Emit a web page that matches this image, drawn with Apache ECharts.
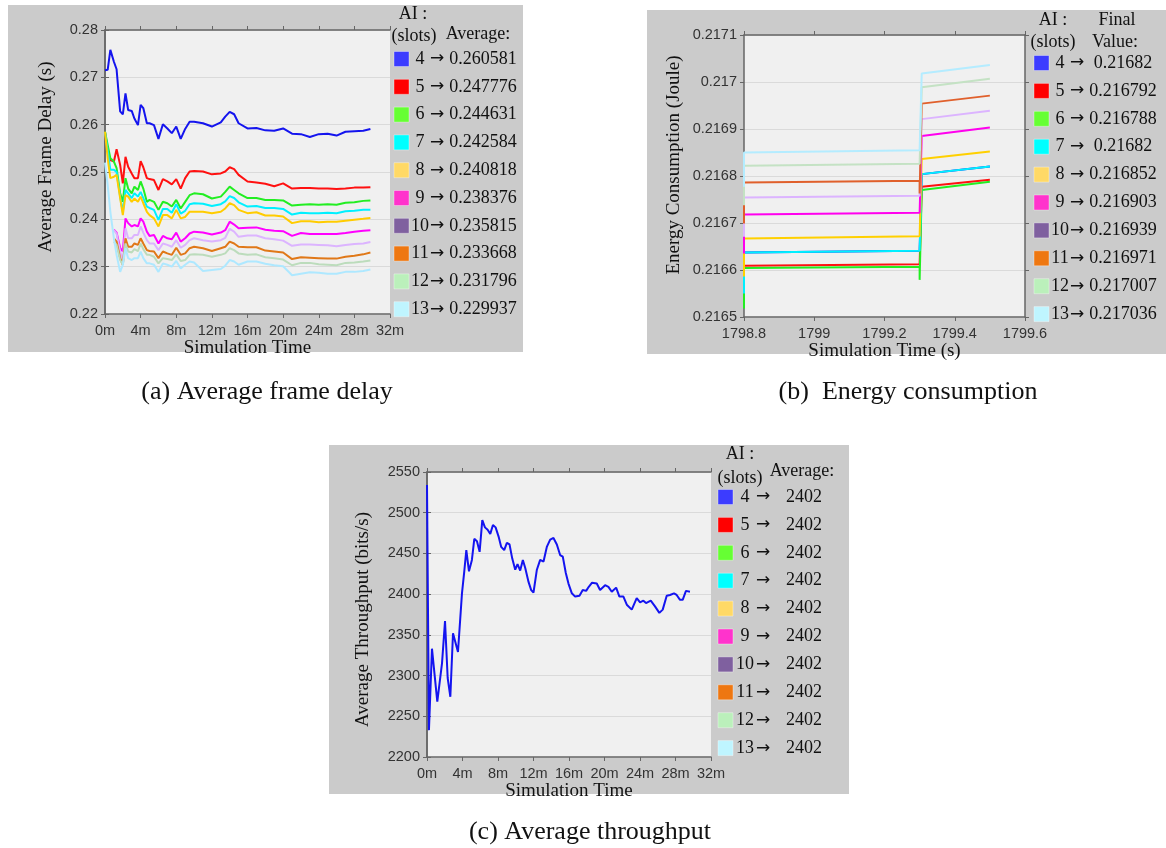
<!DOCTYPE html>
<html><head><meta charset="utf-8">
<script src="https://cdn.jsdelivr.net/npm/echarts@6/dist/echarts.min.js"></script>
<style>html,body{margin:0;padding:0;background:#fff}#c{width:1166px;height:848px}</style>
</head><body><div id="c"></div>
<script>
// ---------- data ----------
const slots = [4, 5, 6, 7, 8, 9, 10, 11, 12, 13];
const legendColors = ['#3c3cff', '#ff0000', '#66ff33', '#00ffff', '#ffd966', '#ff33cc', '#7f609f', '#ee7711', '#bbf0bb', '#bff5ff'];
const delayLineColors = ['#1414ee', '#ff1010', '#22ee22', '#00f0ff', '#ffcc00', '#ff00ff', '#dcb4ff', '#e07818', '#bcdcbc', '#aee8ff'];
const energyLineColors = ['#1414ee', '#ff1010', '#22ee22', '#00f0ff', '#ffd000', '#ff00ee', '#dcb4ff', '#e0602c', '#c4e2c4', '#b4ecff'];

// (a) Average frame delay (s) vs simulation time (minutes)
const delayTime = [0, 0.3, 0.6, 1.0, 1.3, 1.7, 2.0, 2.3, 2.6, 3.0, 3.3, 3.7, 4.0, 4.3, 4.7, 5.0, 5.5, 6.0, 6.5, 7.0, 7.5, 8.0, 8.5, 9.0, 9.5, 10, 11, 12, 13, 13.5, 14, 14.5, 15, 16, 17, 18, 19, 20, 21, 22, 23, 24, 25, 26, 27, 28, 29, 29.8];
const delay4 = [0.2715, 0.2716, 0.2758, 0.2733, 0.2717, 0.2628, 0.2622, 0.2666, 0.2631, 0.2629, 0.2613, 0.2599, 0.2642, 0.2635, 0.2603, 0.2603, 0.2599, 0.2570, 0.2601, 0.2592, 0.2582, 0.2596, 0.2570, 0.2591, 0.2606, 0.2606, 0.2603, 0.2596, 0.2605, 0.2617, 0.2627, 0.2622, 0.2603, 0.2592, 0.2593, 0.2588, 0.2587, 0.2592, 0.2581, 0.2580, 0.2574, 0.2580, 0.2581, 0.2577, 0.2585, 0.2586, 0.2587, 0.2591];
const delay5 = [0.2585, 0.2545, 0.2525, 0.2522, 0.2548, 0.2515, 0.2476, 0.2532, 0.2511, 0.2497, 0.2487, 0.2487, 0.2523, 0.2510, 0.2487, 0.2485, 0.2483, 0.2462, 0.2485, 0.2480, 0.2474, 0.2485, 0.2465, 0.2487, 0.2501, 0.2502, 0.2501, 0.2495, 0.2497, 0.2501, 0.2510, 0.2506, 0.2494, 0.2480, 0.2478, 0.2475, 0.2470, 0.2476, 0.2465, 0.2466, 0.2466, 0.2465, 0.2465, 0.2464, 0.2465, 0.2467, 0.2467, 0.2468];
const delay6 = [0.2585, 0.2557, 0.2529, 0.2522, 0.2508, 0.2455, 0.2437, 0.2487, 0.2465, 0.2455, 0.2469, 0.2462, 0.2480, 0.2465, 0.2437, 0.2441, 0.2437, 0.2420, 0.2437, 0.2434, 0.2427, 0.2441, 0.2423, 0.2437, 0.2451, 0.2455, 0.2453, 0.2444, 0.2448, 0.2458, 0.2469, 0.2462, 0.2455, 0.2445, 0.2445, 0.2441, 0.2441, 0.2440, 0.2429, 0.2431, 0.2432, 0.2431, 0.2432, 0.2431, 0.2435, 0.2436, 0.2439, 0.2440];
const delay7 = [0.2585, 0.2545, 0.2505, 0.2505, 0.2500, 0.2448, 0.2415, 0.2462, 0.2455, 0.2445, 0.2455, 0.2448, 0.2458, 0.2445, 0.2427, 0.2424, 0.2420, 0.2399, 0.2422, 0.2422, 0.2414, 0.2432, 0.2412, 0.2418, 0.2432, 0.2434, 0.2433, 0.2428, 0.2432, 0.2438, 0.2449, 0.2445, 0.2436, 0.2427, 0.2428, 0.2424, 0.2424, 0.2422, 0.2410, 0.2414, 0.2413, 0.2413, 0.2414, 0.2413, 0.2417, 0.2418, 0.2420, 0.2420];
const delay8 = [0.2585, 0.2529, 0.2487, 0.2490, 0.2494, 0.2445, 0.2409, 0.2451, 0.2448, 0.2437, 0.2444, 0.2437, 0.2448, 0.2434, 0.2416, 0.2409, 0.2402, 0.2385, 0.2409, 0.2409, 0.2402, 0.2420, 0.2402, 0.2405, 0.2416, 0.2416, 0.2416, 0.2413, 0.2416, 0.2423, 0.2434, 0.2430, 0.2420, 0.2413, 0.2415, 0.2408, 0.2408, 0.2406, 0.2392, 0.2396, 0.2396, 0.2394, 0.2395, 0.2395, 0.2397, 0.2399, 0.2401, 0.2403];
const delay9 = [null, null, null, 0.2378, 0.2372, 0.2340, 0.2332, 0.2402, 0.2392, 0.2385, 0.2388, 0.2385, 0.2402, 0.2395, 0.2374, 0.2365, 0.2367, 0.2349, 0.2365, 0.2360, 0.2358, 0.2372, 0.2353, 0.2360, 0.2370, 0.2374, 0.2372, 0.2368, 0.2372, 0.2377, 0.2395, 0.2389, 0.2381, 0.2382, 0.2383, 0.2378, 0.2376, 0.2375, 0.2365, 0.2371, 0.2369, 0.2369, 0.2369, 0.2369, 0.2371, 0.2374, 0.2376, 0.2377];
const delay10 = [null, null, null, 0.2377, 0.2370, 0.2332, 0.2314, 0.2381, 0.2360, 0.2360, 0.2367, 0.2367, 0.2385, 0.2372, 0.2356, 0.2349, 0.2349, 0.2335, 0.2349, 0.2346, 0.2342, 0.2356, 0.2340, 0.2346, 0.2356, 0.2360, 0.2356, 0.2353, 0.2356, 0.2361, 0.2380, 0.2374, 0.2363, 0.2366, 0.2366, 0.2360, 0.2358, 0.2355, 0.2344, 0.2347, 0.2347, 0.2346, 0.2345, 0.2343, 0.2346, 0.2348, 0.2349, 0.2352];
const delay11 = [null, null, null, 0.2360, 0.2353, 0.2318, 0.2304, 0.2360, 0.2342, 0.2342, 0.2349, 0.2346, 0.2360, 0.2349, 0.2335, 0.2333, 0.2332, 0.2318, 0.2332, 0.2328, 0.2325, 0.2340, 0.2325, 0.2328, 0.2339, 0.2342, 0.2339, 0.2333, 0.2339, 0.2342, 0.2353, 0.2349, 0.2342, 0.2341, 0.2341, 0.2334, 0.2332, 0.2330, 0.2316, 0.2320, 0.2319, 0.2318, 0.2317, 0.2317, 0.2321, 0.2323, 0.2326, 0.2330];
const delay12 = [null, null, null, 0.2353, 0.2346, 0.2314, 0.2304, 0.2349, 0.2332, 0.2330, 0.2337, 0.2333, 0.2349, 0.2337, 0.2325, 0.2325, 0.2321, 0.2307, 0.2318, 0.2316, 0.2314, 0.2326, 0.2312, 0.2314, 0.2325, 0.2326, 0.2325, 0.2321, 0.2325, 0.2328, 0.2339, 0.2335, 0.2328, 0.2325, 0.2326, 0.2320, 0.2318, 0.2315, 0.2303, 0.2308, 0.2308, 0.2305, 0.2304, 0.2303, 0.2308, 0.2309, 0.2311, 0.2313];
const delay13 = [0.2520, 0.2473, 0.2416, 0.2360, 0.2325, 0.2289, 0.2304, 0.2339, 0.2318, 0.2314, 0.2318, 0.2318, 0.2332, 0.2318, 0.2307, 0.2307, 0.2304, 0.2289, 0.2307, 0.2304, 0.2300, 0.2312, 0.2296, 0.2304, 0.2311, 0.2309, 0.2291, 0.2293, 0.2295, 0.2302, 0.2314, 0.2311, 0.2304, 0.2311, 0.2311, 0.2306, 0.2303, 0.2301, 0.2282, 0.2285, 0.2288, 0.2287, 0.2285, 0.2285, 0.2289, 0.2289, 0.2291, 0.2294];
const delayAverage = ['0.260581', '0.247776', '0.244631', '0.242584', '0.240818', '0.238376', '0.235815', '0.233668', '0.231796', '0.229937'];

// (b) Energy consumption (Joule) vs simulation time (s)
const energyTime = [1798.8, 1798.8, 1799.3, 1799.3, 1799.306, 1799.5];
const energyEntry = [0.216565, 0.216572, 0.216518, 0.216550, 0.216586, 0.216635, 0.216671, 0.216699, 0.216738, 0.216777];
const energyStartLevel = [0.216637, 0.216609, 0.216604, 0.216637, 0.216667, 0.216718, 0.216754, 0.216786, 0.216822, 0.216850];
const energyEndLevel = [0.216641, 0.216612, 0.216607, 0.216641, 0.216672, 0.216722, 0.216758, 0.216790, 0.216826, 0.216855];
const energyDip = [0.216641, 0.216612, 0.216579, 0.216641, 0.216672, 0.216722, 0.216758, 0.216763, 0.216826, 0.216855];
const energyJump = [0.216804, 0.216777, 0.216770, 0.216804, 0.216836, 0.216885, 0.216921, 0.216954, 0.216989, 0.217018];
const energyFinal = [0.21682, 0.216792, 0.216788, 0.21682, 0.216852, 0.216903, 0.216939, 0.216971, 0.217007, 0.217036];

// (c) Average throughput (bits/s) vs simulation time (minutes)
const throughputTime = [0, 0.22, 0.56, 1.16, 1.69, 2.03, 2.33, 2.63, 2.93, 3.49, 3.94, 4.2, 4.43, 4.73, 5.06, 5.33, 5.63, 5.93, 6.23, 6.53, 6.83, 7.13, 7.43, 7.73, 8.06, 8.36, 8.7, 9.0, 9.3, 9.6, 9.94, 10.2, 10.5, 10.8, 11.07, 11.44, 11.74, 12.0, 12.38, 12.75, 13.13, 13.5, 13.88, 14.25, 14.63, 15.0, 15.3, 15.64, 15.94, 16.32, 16.69, 17.18, 17.55, 17.93, 18.23, 18.6, 19.13, 19.5, 20.07, 20.44, 20.82, 21.31, 21.68, 22.13, 22.51, 23.07, 23.63, 24.01, 24.38, 24.68, 25.21, 25.69, 26.18, 26.56, 27.01, 27.38, 27.83, 28.13, 28.51, 28.81, 29.18, 29.63];
const throughput = [2534, 2233, 2333, 2268, 2315, 2367, 2297, 2274, 2352, 2329, 2401, 2428, 2454, 2428, 2442, 2468, 2465, 2452, 2491, 2482, 2479, 2474, 2485, 2482, 2471, 2458, 2454, 2463, 2461, 2444, 2430, 2437, 2429, 2442, 2432, 2415, 2405, 2402, 2430, 2442, 2440, 2458, 2467, 2469, 2461, 2448, 2446, 2426, 2413, 2401, 2397, 2398, 2405, 2404, 2409, 2414, 2413, 2405, 2411, 2409, 2403, 2408, 2397, 2397, 2387, 2381, 2395, 2390, 2392, 2389, 2392, 2385, 2377, 2381, 2398, 2399, 2401, 2399, 2393, 2393, 2404, 2403];
const throughputAverage = ['2402', '2402', '2402', '2402', '2402', '2402', '2402', '2402', '2402', '2402'];

// ---------- chart ----------
const SANS = '"Liberation Sans", Arial, sans-serif';
const SERIF = '"Liberation Serif", "Times New Roman", serif';
const delaySeriesValues = [delay4, delay5, delay6, delay7, delay8, delay9, delay10, delay11, delay12, delay13];

const chart = echarts.init(document.getElementById('c'), null, {renderer: 'canvas', width: 1166, height: 848});

const axisLineStyle = {lineStyle: {color: '#666', width: 1.5}};
const tickStyle = {show: true, length: 4, lineStyle: {color: '#666', width: 1}};
const labelStyle = {fontSize: 14.5, color: '#333', fontFamily: SANS};
const nameStyle = {fontSize: 19, color: '#111', fontFamily: SERIF};

function xBottom(gi, min, max, interval, fmt, name, gap) {
  return {type: 'value', gridIndex: gi, position: 'bottom', min, max, interval,
    axisLine: axisLineStyle, axisTick: tickStyle, splitLine: {show: false},
    axisLabel: Object.assign({margin: 9, formatter: fmt}, labelStyle),
    name, nameLocation: 'middle', nameGap: gap, nameTextStyle: nameStyle};
}
function xTop(gi, min, max, interval) {
  return {type: 'value', gridIndex: gi, position: 'top', min, max, interval,
    axisLine: axisLineStyle, axisTick: tickStyle, splitLine: {show: false}, axisLabel: {show: false}};
}
function yLeft(gi, min, max, interval, fmt, name, gap, shift) {
  // shift > 0 moves the rotated title upwards, < 0 downwards
  const pad = shift >= 0 ? [0, 0, 0, 2 * shift] : [0, -2 * shift, 0, 0];
  return {type: 'value', gridIndex: gi, position: 'left', min, max, interval,
    axisLine: Object.assign({show: true}, axisLineStyle), axisTick: tickStyle,
    splitLine: {show: true, lineStyle: {color: '#dadada', width: 1}},
    axisLabel: Object.assign({margin: 7, formatter: fmt}, labelStyle),
    name, nameLocation: 'middle', nameGap: gap, nameRotate: 90,
    nameTextStyle: Object.assign({padding: pad}, nameStyle)};
}
function yRight(gi, min, max, interval) {
  return {type: 'value', gridIndex: gi, position: 'right', min, max, interval,
    axisLine: Object.assign({show: true}, axisLineStyle), axisTick: tickStyle,
    splitLine: {show: false}, axisLabel: {show: false}};
}

const minuteFmt = v => v + 'm';
const series = [];
delaySeriesValues.forEach((vals, i) => {
  series.push({type: 'line', name: 'a' + slots[i], xAxisIndex: 0, yAxisIndex: 0,
    data: delayTime.map((t, k) => [t, vals[k]]), showSymbol: false, silent: true,
    lineStyle: {width: 2, color: delayLineColors[i]}, itemStyle: {color: delayLineColors[i]}});
});
slots.forEach((s, i) => {
  const vals = [energyEntry[i], energyStartLevel[i], energyEndLevel[i], energyDip[i], energyJump[i], energyFinal[i]];
  series.push({type: 'line', name: 'b' + s, xAxisIndex: 1, yAxisIndex: 1,
    data: energyTime.map((t, k) => [t, vals[k]]), showSymbol: false, silent: true,
    lineStyle: {width: 2, color: energyLineColors[i]}, itemStyle: {color: energyLineColors[i]}});
});
series.push({type: 'line', name: 'c4', xAxisIndex: 2, yAxisIndex: 2,
  data: throughputTime.map((t, k) => [t, throughput[k]]), showSymbol: false, silent: true,
  lineStyle: {width: 2, color: '#1414f0'}, itemStyle: {color: '#1414f0'}});

// graphic: panel backgrounds, legends, captions
const graphic = [];
function rect(x, y, w, h, fill, z) {
  graphic.push({type: 'rect', shape: {x, y, width: w, height: h}, style: {fill}, z: z, silent: true});
}
function text(str, x, y, size, align, family, color) {
  graphic.push({type: 'text', x, y, silent: true, z: 10,
    style: {text: str, fontSize: size, fontFamily: family || SERIF, fill: color || '#111',
      align: align || 'center', textAlign: align || 'center', verticalAlign: 'middle', textVerticalAlign: 'middle'}});
}
rect(8, 5, 515, 347, '#cbcbcb', -100);
rect(647, 10, 519, 344, '#cbcbcb', -100);
rect(329, 445, 520, 349, '#cbcbcb', -100);

function legend(cfg, values) {
  cfg.headers.forEach(h => text(h[0], h[1], h[2], 18));
  slots.forEach((s, i) => {
    const y = cfg.top + i * cfg.step;
    graphic.push({type: 'rect', shape: {x: cfg.sq, y: y - 7.5, width: 15, height: 15}, z: 10, silent: true,
      style: {fill: legendColors[i], stroke: 'rgba(255,255,255,0.35)', lineWidth: 1}});
    text(String(s), cfg.num, y, 18);
    text('→', cfg.arrow, y, 17, 'center', '"DejaVu Sans", sans-serif');
    text(values[i], cfg.val, y, 18);
  });
}
legend({headers: [['AI :', 413, 14], ['(slots)', 414, 36], ['Average:', 478, 34]], top: 59, step: 27.8, sq: 394, num: 420, arrow: 437, val: 483}, delayAverage);
legend({headers: [['AI :', 1053, 20], ['(slots)', 1053, 42], ['Final', 1117, 20], ['Value:', 1115, 42]], top: 63, step: 27.9, sq: 1034, num: 1060, arrow: 1077, val: 1123}, energyFinal.map(String));
legend({headers: [['AI :', 740, 454], ['(slots)', 740, 478], ['Average:', 802, 471]], top: 497, step: 27.9, sq: 718, num: 745, arrow: 763, val: 804}, throughputAverage);

text('(a) Average frame delay', 267, 392, 26);
text('(b)  Energy consumption', 908, 392, 26);
text('(c) Average throughput', 590, 832, 26);

chart.setOption({
  animation: false,
  backgroundColor: '#ffffff',
  textStyle: {fontFamily: SANS},
  grid: [
    {left: 105, top: 30, width: 285, height: 284, show: true, backgroundColor: '#f0f0f0', borderWidth: 0},
    {left: 744, top: 35, width: 281, height: 282, show: true, backgroundColor: '#f0f0f0', borderWidth: 0},
    {left: 427, top: 472, width: 284, height: 285, show: true, backgroundColor: '#f0f0f0', borderWidth: 0}
  ],
  xAxis: [
    xBottom(0, 0, 32, 4, minuteFmt, 'Simulation Time', 23),
    xBottom(1, 1798.8, 1799.6, 0.2, v => String(+v.toFixed(1)), 'Simulation Time (s)', 20),
    xBottom(2, 0, 32, 4, minuteFmt, 'Simulation Time', 21),
    xTop(0, 0, 32, 4), xTop(1, 1798.8, 1799.6, 0.2), xTop(2, 0, 32, 4)
  ],
  yAxis: [
    yLeft(0, 0.22, 0.28, 0.01, v => v.toFixed(2), 'Average Frame Delay (s)', 49, 15),
    yLeft(1, 0.2165, 0.2171, 0.0001, v => String(+v.toFixed(4)), 'Energy Consumption (Joule)', 60, 11),
    yLeft(2, 2200, 2550, 50, v => String(v), 'Average Throughput (bits/s)', 54, -5),
    yRight(0, 0.22, 0.28, 0.01), yRight(1, 0.2165, 0.2171, 0.0001), yRight(2, 2200, 2550, 50)
  ],
  series,
  graphic: {elements: graphic}
});
</script>
</body></html>
